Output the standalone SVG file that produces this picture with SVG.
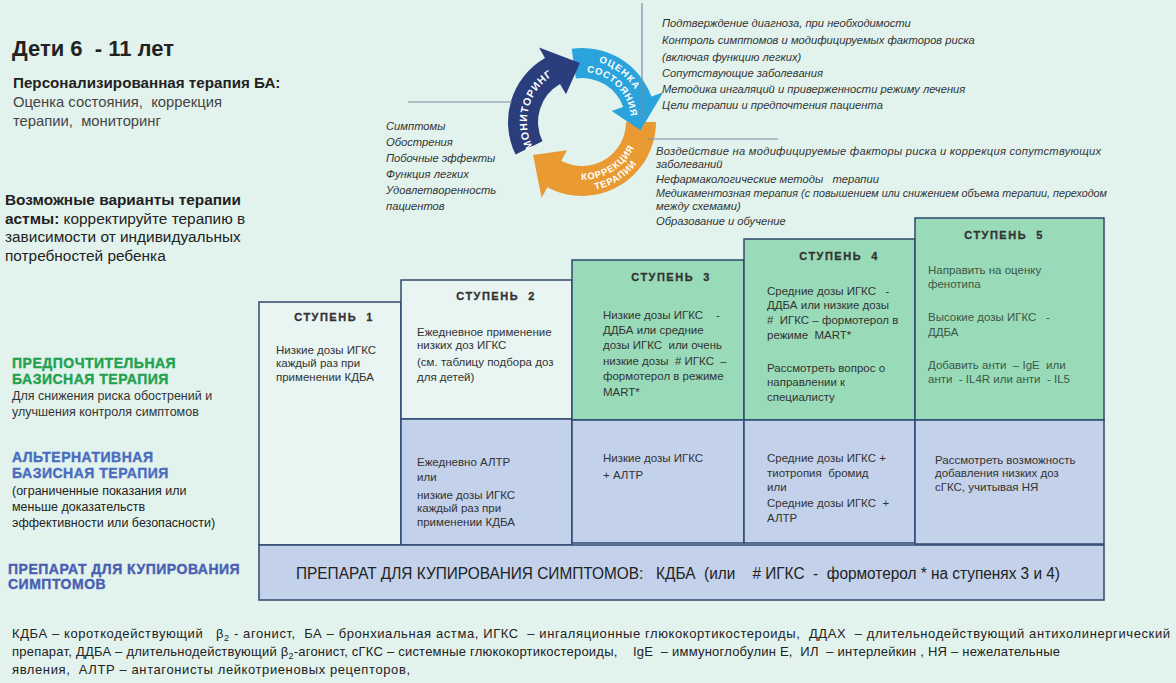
<svg xmlns="http://www.w3.org/2000/svg" width="1176" height="683" viewBox="0 0 1176 683">
<style>
text { font-family: "Liberation Sans", Arial, sans-serif; white-space: pre; }
.t { font-size: 11.5px; fill: #333; }
.t5 { font-size: 11.5px; fill: #3b5848; }
.h { font-size: 11px; font-weight: bold; letter-spacing: 1.5px; fill: #333; text-anchor: middle; stroke: #333; stroke-width: 0.3; }
.it { font-size: 11.2px; font-style: italic; fill: #333; }
.box { stroke: #2f4870; stroke-width: 1.5; }
.pale { fill: #e8f5f2; }
.green { fill: #99dbb8; }
.blue { fill: #c3d1ea; }
.arc { font-size: 9.5px; font-weight: bold; fill: #fff; letter-spacing: 0.8px; }
.ln { stroke: #7d8ca3; stroke-width: 1.2; fill: none; }
.lbl { font-size: 14px; font-weight: bold; letter-spacing: 0.5px; stroke-width: 0.4; }
.sm { font-size: 12.5px; fill: #333; }
.ft { font-size: 13px; fill: #222; }
</style>
<defs>
<path id="pMon" d="M534.4,149.5 A55,55 0 0 1 554.5,74.4"/>
<path id="pOc1" d="M576.6,60.2 A62,62 0 0 1 643.1,111.2"/>
<path id="pOc2" d="M582,72 A49,49 0 0 1 631,122"/>
<path id="pKo1" d="M571.9,179.1 A58,58 0 0 0 637.8,138"/>
<path id="pKo2" d="M570,190 A69,69 0 0 0 648.3,141"/>
</defs>
<rect x="0" y="0" width="1176" height="683" fill="#e2f3ee"/>

<g id="header">
<text x="12" y="56" style="font-size:22px;font-weight:bold;fill:#222">Дети 6  - 11 лет</text>
<text x="13" y="88" style="font-size:15.2px;font-weight:bold;fill:#222">Персонализированная терапия БА:</text>
<text x="13" y="107" style="font-size:14.8px;fill:#444">Оценка состояния,  коррекция</text>
<text x="13" y="126" style="font-size:14.8px;fill:#444">терапии,  мониторинг</text>
<text x="5" y="205" style="font-size:15.4px;font-weight:bold;fill:#222">Возможные варианты терапии</text>
<text x="5" y="224" style="font-size:15.4px;fill:#222"><tspan font-weight="bold">астмы: </tspan>корректируйте терапию в</text>
<text x="5" y="242" style="font-size:15.4px;fill:#222">зависимости от индивидуальных</text>
<text x="5" y="261" style="font-size:15.4px;fill:#222">потребностей ребенка</text>
</g>

<g id="cycle">
<g id="cycle-bands">
<path d="M571.7,48.7 A74,74 0 0 1 651.5,96.7 L662.8,92.6 L640.4,130.2 L612.1,111.1 L623.3,107 A44,44 0 0 0 575.9,78.4 Z" fill="#2ba4dd"/>
<path d="M656,122 A74,74 0 0 1 547.3,187.3 L541.6,197.9 L533.1,155 L567,150.3 L561.3,160.8 A44,44 0 0 0 626,122 Z" fill="#e99a33"/>
<path d="M515.5,154.4 A74,74 0 0 1 545,57.9 L539,47.5 L579.9,63 L566,94.3 L560,83.9 A44,44 0 0 0 542.5,141.3 Z" fill="#2a3d7c"/>
<path d="M651.5,96.7 L662.8,92.6 L640.4,130.2 L612.1,111.1 L623.3,107 Z" fill="#2ba4dd"/>
</g>
<text class="arc" style="font-size:10.5px"><textPath href="#pMon" startOffset="50%" text-anchor="middle">МОНИТОРИНГ</textPath></text>
<text class="arc" style="letter-spacing:1.2px"><textPath href="#pOc1" startOffset="50%" text-anchor="middle">ОЦЕНКА</textPath></text>
<text class="arc"><textPath href="#pOc2" startOffset="50%" text-anchor="middle">СОСТОЯНИЯ</textPath></text>
<text class="arc"><textPath href="#pKo1" startOffset="50%" text-anchor="middle">КОРРЕКЦИЯ</textPath></text>
<text class="arc"><textPath href="#pKo2" startOffset="50%" text-anchor="middle">ТЕРАПИИ</textPath></text>
</g>

<g id="connectors">
<line class="ln" x1="642" y1="3" x2="642" y2="118"/>
<line class="ln" x1="648" y1="139" x2="778" y2="139"/>
<line class="ln" x1="408" y1="102" x2="512" y2="102"/>
</g>

<g id="monitoring-list">
<text class="it" x="386" y="130">Симптомы</text>
<text class="it" x="386" y="146">Обострения</text>
<text class="it" x="386" y="162">Побочные эффекты</text>
<text class="it" x="386" y="178">Функция легких</text>
<text class="it" x="386" y="194">Удовлетворенность</text>
<text class="it" x="386" y="210">пациентов</text>
</g>

<g id="assessment-list">
<text class="it" x="662" y="27">Подтверждение диагноза, при необходимости</text>
<text class="it" x="662" y="44">Контроль симптомов и модифицируемых факторов риска</text>
<text class="it" x="662" y="61">(включая функцию легких)</text>
<text class="it" x="662" y="77">Сопутствующие заболевания</text>
<text class="it" x="662" y="93">Методика ингаляций и приверженности режиму лечения</text>
<text class="it" x="662" y="109">Цели терапии и предпочтения пациента</text>
</g>

<g id="correction-list">
<text class="it" x="656" y="155" textLength="445" lengthAdjust="spacing">Воздействие на модифицируемые факторы риска и коррекция сопутствующих</text>
<text class="it" x="656" y="168">заболеваний</text>
<text class="it" x="656" y="183">Нефармакологические методы   терапии</text>
<text class="it" x="656" y="197" textLength="451" lengthAdjust="spacingAndGlyphs">Медикаментозная терапия (с повышением или снижением объема терапии, переходом</text>
<text class="it" x="656" y="210">между схемами)</text>
<text class="it" x="656" y="225">Образование и обучение</text>
</g>

<g id="row-labels">
<text class="lbl" x="12" y="368" fill="#22a24f" stroke="#22a24f">ПРЕДПОЧТИТЕЛЬНАЯ</text>
<text class="lbl" x="12" y="384" fill="#22a24f" stroke="#22a24f">БАЗИСНАЯ ТЕРАПИЯ</text>
<text class="sm" x="12" y="400">Для снижения риска обострений и</text>
<text class="sm" x="12" y="416">улучшения контроля симптомов</text>
<text class="lbl" x="12" y="462" fill="#4a6cc0" stroke="#4a6cc0">АЛЬТЕРНАТИВНАЯ</text>
<text class="lbl" x="12" y="478" fill="#4a6cc0" stroke="#4a6cc0">БАЗИСНАЯ ТЕРАПИЯ</text>
<text class="sm" x="12" y="495" style="fill:#222">(ограниченные показания или</text>
<text class="sm" x="12" y="511" style="fill:#222">меньше доказательств</text>
<text class="sm" x="12" y="527" style="fill:#222">эффективности или безопасности)</text>
<text class="lbl" x="8" y="574" fill="#4a5fb2" stroke="#4a5fb2">ПРЕПАРАТ ДЛЯ КУПИРОВАНИЯ</text>
<text class="lbl" x="8" y="589" fill="#4a5fb2" stroke="#4a5fb2">СИМПТОМОВ</text>
</g>

<g id="step1">
<rect class="box pale" x="259" y="302" width="142" height="243"/>
<text class="h" x="334" y="321">СТУПЕНЬ  1</text>
<text class="t" x="276" y="354">Низкие дозы ИГКС</text>
<text class="t" x="276" y="367">каждый раз при</text>
<text class="t" x="276" y="381">применении КДБА</text>
</g>

<g id="step2">
<rect class="box pale" x="401" y="280" width="171" height="139"/>
<text class="h" x="496" y="300">СТУПЕНЬ  2</text>
<text class="t" x="417" y="336">Ежедневное применение</text>
<text class="t" x="417" y="349">низких доз ИГКС</text>
<text class="t" x="417" y="366">(см. таблицу подбора доз</text>
<text class="t" x="417" y="381">для детей)</text>
</g>
<g id="step2-alt">
<rect class="box blue" x="401" y="419" width="171" height="126"/>
<text class="t" x="417" y="466">Ежедневно АЛТР</text>
<text class="t" x="417" y="481">или</text>
<text class="t" x="417" y="499">низкие дозы ИГКС</text>
<text class="t" x="417" y="512">каждый раз при</text>
<text class="t" x="417" y="526">применении КДБА</text>
</g>

<g id="step3">
<rect class="box green" x="572" y="260" width="172" height="160"/>
<text class="h" x="671" y="281">СТУПЕНЬ  3</text>
<text class="t" x="603" y="319">Низкие дозы ИГКС    -</text>
<text class="t" x="603" y="334">ДДБА или средние</text>
<text class="t" x="603" y="349">дозы ИГКС  или очень</text>
<text class="t" x="603" y="365">низкие дозы  # ИГКС  –</text>
<text class="t" x="603" y="380">формотерол в режиме</text>
<text class="t" x="603" y="396">MART*</text>
</g>
<g id="step3-alt">
<rect class="box blue" x="572" y="420" width="172" height="123"/>
<text class="t" x="603" y="462">Низкие дозы ИГКС</text>
<text class="t" x="603" y="479">+ АЛТР</text>
</g>

<g id="step4">
<rect class="box green" x="744" y="239" width="171" height="181"/>
<text class="h" x="839" y="260">СТУПЕНЬ  4</text>
<text class="t" x="767" y="295">Средние дозы ИГКС   -</text>
<text class="t" x="767" y="309">ДДБА или низкие дозы</text>
<text class="t" x="767" y="324">#  ИГКС – формотерол в</text>
<text class="t" x="767" y="339">режиме  MART*</text>
<text class="t" x="767" y="372">Рассмотреть вопрос о</text>
<text class="t" x="767" y="386">направлении к</text>
<text class="t" x="767" y="401">специалисту</text>
</g>
<g id="step4-alt">
<rect class="box blue" x="744" y="420" width="171" height="123"/>
<text class="t" x="767" y="462">Средние дозы ИГКС +</text>
<text class="t" x="767" y="477">тиотропия  бромид</text>
<text class="t" x="767" y="491">или</text>
<text class="t" x="767" y="507">Средние дозы ИГКС  +</text>
<text class="t" x="767" y="522">АЛТР</text>
</g>

<g id="step5">
<rect class="box green" x="915" y="218" width="189" height="202"/>
<text class="h" x="1004" y="239">СТУПЕНЬ  5</text>
<text class="t5" x="928" y="274">Направить на оценку</text>
<text class="t5" x="928" y="288">фенотипа</text>
<text class="t5" x="928" y="321">Высокие дозы ИГКС   -</text>
<text class="t5" x="928" y="336">ДДБА</text>
<text class="t5" x="928" y="369">Добавить анти  – IgE  или</text>
<text class="t5" x="928" y="383">анти  - IL4R или анти  - IL5</text>
</g>
<g id="step5-alt">
<rect class="box blue" x="915" y="420" width="189" height="124"/>
<text class="t" x="935" y="464">Рассмотреть возможность</text>
<text class="t" x="935" y="477">добавления низких доз</text>
<text class="t" x="935" y="491">сГКС, учитывая НЯ</text>
</g>

<g id="reliever">
<rect class="box blue" x="259" y="545" width="845" height="55"/>
<text x="296" y="579" textLength="764" lengthAdjust="spacingAndGlyphs" style="font-size:16px;fill:#222">ПРЕПАРАТ ДЛЯ КУПИРОВАНИЯ СИМПТОМОВ:   КДБА  (или    # ИГКС  -  формотерол * на ступенях 3 и 4)</text>
</g>

<g id="footnote">
<text class="ft" x="12" y="638" textLength="1158" lengthAdjust="spacing">КДБА – короткодействующий   β<tspan font-size="9" dy="3">2</tspan><tspan dy="-3"> - агонист,  БА – бронхиальная астма, ИГКС  – ингаляционные глюкокортикостероиды,  ДДАХ  – длительнодействующий антихолинергический</tspan></text>
<text class="ft" x="12" y="656" textLength="1048" lengthAdjust="spacing">препарат, ДДБА – длительнодействующий β<tspan font-size="9" dy="3">2</tspan><tspan dy="-3">-агонист, сГКС – системные глюкокортикостероиды,    IgE  – иммуноглобулин Е,  ИЛ  – интерлейкин , НЯ – нежелательные</tspan></text>
<text class="ft" x="12" y="674" textLength="398" lengthAdjust="spacing">явления,  АЛТР – антагонисты лейкотриеновых рецепторов,</text>
</g>
</svg>
